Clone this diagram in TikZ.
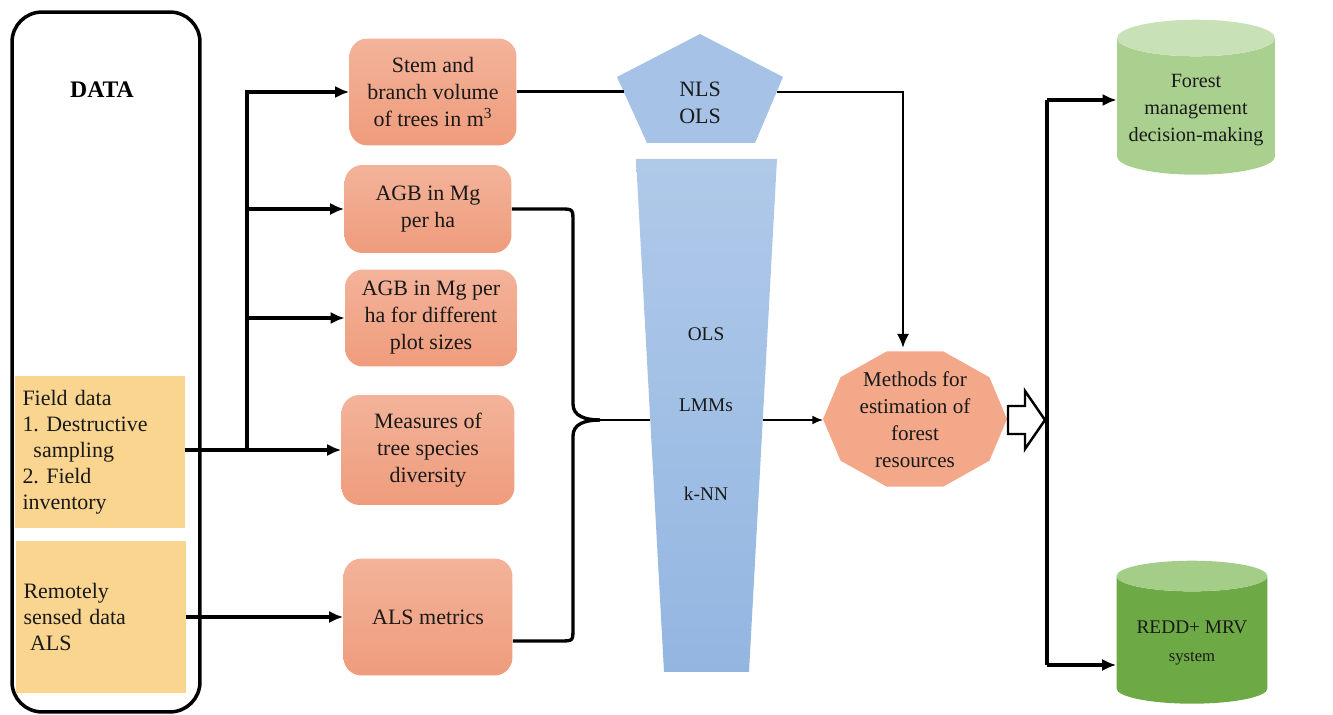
\documentclass[tikz,border=0pt]{standalone}
\usepackage{fontspec}
\setmainfont{Liberation Serif}
\usetikzlibrary{shapes.geometric,arrows.meta,calc}
\definecolor{salmonA}{HTML}{F3B39A}
\definecolor{salmonB}{HTML}{EF9C7C}
\definecolor{salmonC}{HTML}{F3A88A}
\definecolor{sand}{HTML}{FAD590}
\definecolor{blueA}{HTML}{A6C2E6}
\definecolor{blueB}{HTML}{B0C9E9}
\definecolor{blueC}{HTML}{93B6E1}
\definecolor{leafA}{HTML}{A9D08E}
\definecolor{leafB}{HTML}{C8E1B7}
\definecolor{mossA}{HTML}{6DAA45}
\definecolor{mossB}{HTML}{A4CD88}

\begin{document}
\begin{tikzpicture}[x=0.02cm,y=-0.02cm,
  txt/.style={font=\fontsize{12.5}{15.4}\selectfont, align=center, text=black!90},
  obox/.style={txt, rounded corners=0.36cm, top color=salmonA, bottom color=salmonB, inner sep=2pt},
  ybox/.style={font=\fontsize{12.5}{14.8}\selectfont\frenchspacing, align=left, text=black!90, fill=sand,
    text width=3.1cm, minimum width=3.3cm, minimum height=3.03cm, inner sep=4pt},
  small/.style={font=\fontsize{11}{13}\selectfont, text=black!90},
  cyl/.style={txt, cylinder, shape border rotate=90, aspect=0.25, cylinder uses custom fill},
  conn/.style={line width=1.8pt, -{Latex[length=8pt,width=7pt]}},
  brace/.style={line width=1.9pt}]
  \useasboundingbox (0,0) rectangle (1333,715);

  % data column
  \node[draw, line width=2pt, rounded corners=0.6cm, minimum width=3.76cm, minimum height=14cm] (data) at (106,362) {};
  \node[font=\fontsize{13.5}{15}\selectfont\bfseries] (datalbl) at (102,90) {DATA};
  \node[ybox] (field) at (100,452) {Field data\\1. Destructive\\\hspace*{0.5em}sampling\\2. Field\\inventory};
  \node[ybox] (remote) at (101,617) {Remotely\\sensed data\\\hspace*{0.3em}ALS};

  % outputs of the data
  \node[obox, minimum width=3.34cm, minimum height=2.14cm] (stem) at (433,92) {Stem and\\branch volume\\of trees in m\textsuperscript{3}};
  \node[obox, minimum width=3.34cm, minimum height=1.76cm] (agb1) at (428,209) {AGB in Mg\\per ha};
  \node[obox, minimum width=3.44cm, minimum height=1.94cm] (agb2) at (431,318) {AGB in Mg per\\ha for different\\plot sizes};
  \node[obox, minimum width=3.46cm, minimum height=2.2cm] (div) at (428,450) {Measures of\\tree species\\diversity};
  \node[obox, minimum width=3.38cm, minimum height=2.34cm] (als) at (428,617) {ALS metrics};

  \coordinate (trunk) at (247,450);
  \draw[conn] (field.east |- div.west) -- (div.west);
  \draw[conn] (trunk) |- (stem.west);
  \draw[conn] (trunk |- agb1.west) -- (agb1.west);
  \draw[conn] (trunk |- agb2.west) -- (agb2.west);
  \draw[conn] (remote.east) -- (als.west);

  % models
  \coordinate (p1) at (700,34); \coordinate (p2) at (783,77); \coordinate (p3) at (755,143);
  \coordinate (p4) at (647,143); \coordinate (p5) at (617,77);
  \fill[blueA] (p1) -- (p2) -- (p3) -- (p4) -- (p5) -- cycle;
  \node[txt] (nls) at (700,103) {NLS\\OLS};
  \coordinate (pin) at (624,92); \coordinate (pout) at (777,92);

  \shade[top color=blueB, bottom color=blueC] (636,159) -- (777,159) -- (749,672) -- (664,672) -- cycle;
  \node[small] (ols) at (706,334) {OLS};
  \node[small] (lmm) at (706,405) {LMMs};
  \node[small] (knn) at (706,494) {k-NN};
  \coordinate (tin) at (650,420); \coordinate (tout) at (763,420);

  % brace into the models
  \coordinate (tip) at (600,420);
  \draw[brace] (agb1.east) -- (560,209) .. controls (573,209) .. (573,222) -- (573,404)
    .. controls (573,416) and (585,420) .. (tip);
  \draw[brace] ($(als.east)+(0,24)$) -- (560,641) .. controls (573,641) .. (573,628) -- (573,436)
    .. controls (573,424) and (585,420) .. (tip);
  \draw[line width=1.5pt] (tip) -- (tin);
  \draw[line width=1.7pt] (stem.east) -- (pin);

  % estimation
  \fill[salmonC] (1007,419) \foreach \a in {36,72,...,324} { -- ({915+92*cos(\a)},{419+71*sin(\a)}) } -- cycle;
  \node[txt, font=\fontsize{12}{15.3}\selectfont] (methods) at (915,420) {Methods for\\estimation of\\forest\\resources};
  \coordinate (mtop) at (903,348); \coordinate (mwest) at (823,420);
  \draw[line width=1.6pt, -{Latex[length=8pt,width=7pt]}] (pout) -| (mtop);
  \draw[line width=0.9pt, -{Latex[length=6pt,width=5pt]}] (tout) -- (mwest);
  \draw[line width=1.4pt, fill=white] (1008,406) -- (1025,406) -- (1025,391) -- (1045,420)
    -- (1025,449) -- (1025,434) -- (1008,434) -- cycle;

  % uses
  \node[cyl, font=\fontsize{11.5}{15.3}\selectfont, cylinder body fill=leafA, cylinder end fill=leafB,
    minimum width=3.16cm, minimum height=3.1cm] (forest) at (1196,110) {Forest\\management\\decision-making};
  \node[cyl, cylinder body fill=mossA, cylinder end fill=mossB,
    minimum width=3.02cm, minimum height=2.86cm] (redd) at (1192,643)
    {{\fontsize{11}{13}\selectfont REDD+ MRV}\\{\fontsize{9.5}{11}\selectfont system}};
  \coordinate (ftop) at (1047,100); \coordinate (fbot) at (1047,665);
  \draw[line width=1.8pt] (ftop) -- (fbot);
  \draw[conn] (ftop) -- (ftop -| forest.west);
  \draw[conn] (fbot) -- (fbot -| redd.west);
\end{tikzpicture}
\end{document}
